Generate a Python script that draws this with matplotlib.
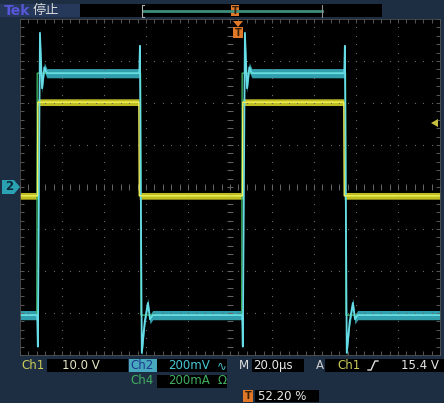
import numpy as np
import matplotlib.pyplot as plt
from matplotlib.patches import Rectangle, Polygon

# waveform data: time in µs, amplitude in screen divisions
ch1_t = [0, 8.3, 8.5, 56.6, 56.8, 105.9, 106.1, 154.2, 154.4, 200]
ch1_div = [-0.21, -0.21, 2.02, 2.02, -0.21, -0.21, 2.02, 2.02, -0.21, -0.21]

ch2_t = [0, 8.2, 8.5, 9.5, 10.5, 11.6, 12.8, 56.8, 57.1, 58.0, 59.4, 60.9, 61.9, 63.2,
         105.8, 106.1, 107.1, 108.1, 109.2, 110.4, 154.4, 154.7, 155.6, 157.0, 158.5, 159.5, 160.8, 200]
ch2_div = [-3.05, -3.05, -3.8, 3.67, 2.35, 2.85, 2.71, 2.71, 3.36, -3.95, -3.2, -2.76, -3.15, -3.05,
           -3.05, -3.8, 3.67, 2.35, 2.85, 2.71, 2.71, 3.36, -3.95, -3.2, -2.76, -3.15, -3.05, -3.05]

ch4_t = [0, 8.0, 8.2, 57.4, 57.6, 105.6, 105.8, 155.0, 155.2, 200]
ch4_div = [-3.05, -3.05, 2.71, 2.71, -3.05, -3.05, 2.71, 2.71, -3.05, -3.05]

# readouts
ch1_scale = "10.0 V"
ch2_scale = "200mV"
ch4_scale = "200mA"
timebase = "20.0µs"
trig_level = "15.4 V"
trig_pos = "52.20 %"

navy = '#1d2d42'
fig = plt.figure(figsize=(4.44, 4.03), dpi=100, facecolor=navy)

W, H = 444, 403
ax = fig.add_axes([20 / W, (H - 355) / H, 420 / W, 336 / H])
ax.set_facecolor('black')
ax.set_xlim(0, 200)
ax.set_ylim(-4, 4)

# graticule
grid_c = '#666666'
minor_x = np.arange(0, 200.1, 4)
minor_y = np.arange(-4, 4.01, 0.2)
for gx in range(20, 200, 20):
    ax.plot(np.full(len(minor_y), gx), minor_y, ls='none', marker='s', ms=0.8, color=grid_c, mew=0)
for gy in range(-3, 4):
    ax.plot(minor_x, np.full(len(minor_x), gy), ls='none', marker='s', ms=0.8, color=grid_c, mew=0)
ax.plot(minor_x, np.zeros(len(minor_x)), ls='none', marker='|', ms=4, color=grid_c, mew=0.7)
ax.plot(np.full(len(minor_y), 100), minor_y, ls='none', marker='_', ms=4, color=grid_c, mew=0.7)
ax.set_xticks(minor_x)
ax.set_yticks(minor_y)
ax.tick_params(direction='in', length=3, width=0.6, color=grid_c, top=True, right=True,
               labelbottom=False, labelleft=False)
for s in ax.spines.values():
    s.set_color('#505050')
    s.set_linewidth(0.6)

# traces
ax.plot(ch4_t, ch4_div, color='#3cb060', lw=1.0)
ax.fill_between(ch2_t, np.array(ch2_div) - 0.11, np.array(ch2_div) + 0.11, color='#3cbccc', alpha=0.85, lw=0)
ax.plot(ch2_t, ch2_div, color='#66dce6', lw=1.3)
ax.fill_between(ch1_t, np.array(ch1_div) - 0.08, np.array(ch1_div) + 0.08, color='#d4d428', alpha=0.9, lw=0)
ax.plot(ch1_t, ch1_div, color='#f2f25a', lw=1.0)

# overlay in pixel coordinates for the scope chrome
ov = fig.add_axes([0, 0, 1, 1], zorder=5)
ov.set_xlim(0, W)
ov.set_ylim(H, 0)
ov.axis('off')
ov.patch.set_alpha(0)

def box(x, y, w, h, c):
    ov.add_patch(Rectangle((x, y), w, h, color=c, lw=0))

def txt(x, y, s, c, size=8.5, **kw):
    ov.text(x, y, s, color=c, fontsize=size, va='center', ha='left', **kw)

# top bar
box(0, 4, 80, 13, '#26395a')
box(80, 4, 302, 13, 'black')
txt(4, 11, 'Tek', '#5656d8', size=10, fontweight='bold')
txt(33, 10.5, '停止', '#d8d8d8', size=9.5, family=['Noto Sans CJK SC', 'DejaVu Sans'])
ov.plot([143, 322], [11, 11], color='#3e8e7c', lw=2)
ov.plot([144, 142, 142, 144], [5, 5, 17, 17], color='#b0b0b0', lw=0.8)
ov.plot([322, 322], [5, 17], color='#909090', lw=0.8)
box(231, 5, 8, 11, '#e07828')
ov.text(235, 10.5, 'T', color='#3a2008', fontsize=7, ha='center', va='center', fontweight='bold')

# trigger position marker in graticule
ov.add_patch(Polygon([(233, 21), (243, 21), (238, 27)], color='#e07828', lw=0))
box(233, 27, 10, 11, '#e07828')
ov.text(238, 32.5, 'T', color='#3a2008', fontsize=7, ha='center', va='center', fontweight='bold')

# channel 2 ground marker and trigger level marker
ov.add_patch(Polygon([(2, 180), (14, 180), (20, 187), (14, 194), (2, 194)], color='#2aa2b2', lw=0))
ov.text(9, 187, '2', color='#0e2a3a', fontsize=8.5, ha='center', va='center', fontweight='bold')
ov.add_patch(Polygon([(431, 123), (438, 119), (438, 127)], color='#c8c040', lw=0))

# bottom readouts
r1, r2, r3 = 365.5, 381, 396
txt(21, r1, 'Ch1', '#cccc58')
box(47, 359, 81, 13, 'black')
txt(62, r1, ch1_scale, '#e6e6c8')
box(129, 359, 28, 13, '#48a8c0')
txt(130, r1, 'Ch2', '#1c3c8c')
box(157, 359, 70, 13, 'black')
txt(168, r1, ch2_scale, '#48c8d2')
txt(217, r1, '∿', '#48c8d2')
txt(239, r1, 'M', '#e0e0e0')
box(252, 359, 52, 13, 'black')
txt(253, r1, timebase, '#e8e8e8')
txt(316, r1, 'A', '#d0d0d0')
box(325, 359, 119, 13, 'black')
txt(337, r1, 'Ch1', '#cccc58')
ov.plot([368, 371, 375, 378], [370, 370, 361, 361], color='#e0e0e0', lw=1)
txt(401, r1, trig_level, '#e8e8e8')

txt(130, r2, 'Ch4', '#40b060')
box(157, 375, 70, 13, 'black')
txt(168, r2, ch4_scale, '#40b060')
txt(217, r2, 'Ω', '#40b060')

box(243, 390, 10, 12, '#e07828')
ov.text(248, r3, 'T', color='#3a2008', fontsize=7, ha='center', va='center', fontweight='bold')
box(255, 390, 64, 12, 'black')
txt(258, r3, trig_pos, '#e8e8e8')

fig.savefig('out.png', dpi=100, facecolor=navy)
